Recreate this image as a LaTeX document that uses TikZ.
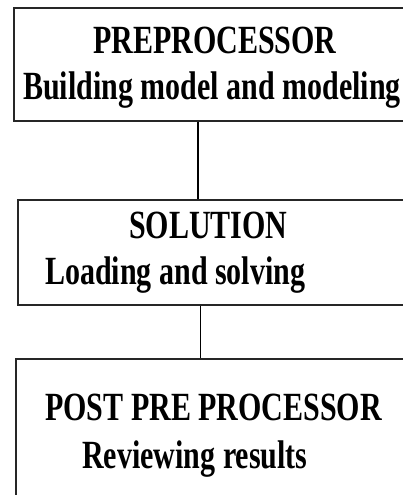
\documentclass[tikz,border=0pt]{standalone}
\usepackage{fontspec}
\setmainfont{Liberation Serif}[FakeStretch=0.75]
\usetikzlibrary{positioning,calc}

\begin{document}
\begin{tikzpicture}[x=1pt, y=-1pt,
        box/.style={rectangle, draw=black!85, line width=1.3pt, inner sep=0pt},
        txt/.style={anchor=base west, inner sep=0pt, font=\fontsize{40}{48}\selectfont\bfseries},
        line/.style={draw, line width=1.8pt}]
    \path [use as bounding box, clip] (0,0) rectangle (403,495);
    \node [box, minimum width=406pt, minimum height=113pt] (prep) at (217,64.5) {};
    \node [box, minimum width=402pt, minimum height=105pt] (sol) at (219,252.5) {};
    \node [box, minimum width=404pt, minimum height=161pt] (post) at (218,439.5) {};

    \node [txt] (prephead) at (93,53) {PREPROCESSOR};
    \node [txt] (preptext) at (23,99) {Building model and modeling};
    \node [txt] (solhead) at (129,238) {SOLUTION};
    \node [txt] (soltext) at (45,284) {Loading and solving};
    \node [txt] (posthead) at (45,420) {POST PRE PROCESSOR};
    \node [txt] (posttext) at (82,468) {Reviewing results};

    \path [line] (198,0 |- prep.south) -- (198,0 |- sol.north);
    \path [line, line width=1pt] (200,0 |- sol.south) -- (200,0 |- post.north);
\end{tikzpicture}
\end{document}
